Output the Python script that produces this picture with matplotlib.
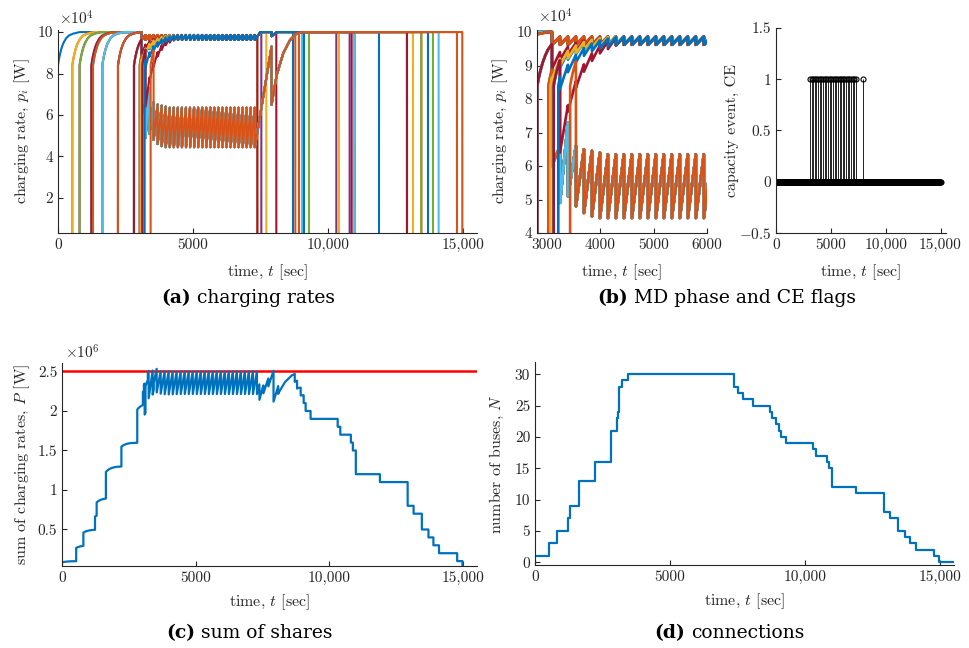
import numpy as np
import matplotlib
matplotlib.use('Agg')
import matplotlib.pyplot as plt

plt.rcParams['font.family'] = 'cmr10'
plt.rcParams['mathtext.fontset'] = 'cm'
plt.rcParams['axes.formatter.use_mathtext'] = True

# plug-in / plug-out times of the 30 buses [sec]
t_on = [0, 531, 531, 800, 800, 1235, 1235, 1296, 1296, 1642, 1642, 1642, 1642,
        2222, 2222, 2222, 2815, 2815, 2815, 2815, 2815, 3025, 3025, 3062,
        3123, 3123, 3123, 3123, 3210, 3432]
t_off = [8704, 8790, 7383, 7531, 9296, 9037, 7383, 10988, 8926, 7716, 10309,
         10988, 10988, 8086, 11889, 13457, 13148, 10802, 13457, 12926, 10877,
         9111, 14778, 10407, 12926, 13889, 14099, 12926, 13704, 14975]

# buses pushed into the low band during the MD phase
low_band = [7, 10, 12, 14, 16, 17, 18, 19, 22, 24, 25, 26, 29]
# late buses that climb back to the high band (rate right after first decrease)
late_start = {20: 8.9, 21: 8.5, 23: 8.6, 27: 6.4, 28: 8.3}

# rate after plug-in [x1e4 W] vs seconds since plug-in
rise_off = [0, 25, 50, 100, 150, 200, 300, 400, 550, 800]
rise_val = [8.4, 8.61, 8.79, 9.08, 9.30, 9.47, 9.70, 9.83, 9.92, 10.0]

# catch-up of late buses: share of the gap to full rate still open
catch_off = [0, 150, 300, 450, 600, 750, 900, 1100]
catch_frac = [1.0, 0.62, 0.40, 0.25, 0.15, 0.08, 0.04, 0.0]

# capacity events (CE = 1)
ce_times = [3090, 3240, 3390, 3540, 3690, 3840, 3990, 4140, 4290, 4440, 4590,
            4740, 4890, 5040, 5190, 5340, 5490, 5640, 5790, 5940, 6090, 6240,
            6390, 6540, 6690, 6840, 6990, 7140, 7290, 7910]

# high band: rate before / after each decrease
hi_peak, hi_trough = 9.86, 9.62
# low band: rate after the decrease at each event, and just before it
low_trough = [6.0, 4.9, 5.1, 4.8, 4.6, 4.5, 4.45, 4.45, 4.45, 4.45, 4.45, 4.45,
              4.45, 4.45, 4.45, 4.45, 4.45, 4.45, 4.45, 4.45, 4.45, 4.45, 4.45,
              4.45, 4.45, 4.45, 4.45, 4.45, 4.45]
low_peak = [None, 6.6, 7.3, 6.6, 6.5, 6.45, 6.4, 6.35, 6.35, 6.35, 6.35, 6.35,
            6.35, 6.35, 6.35, 6.35, 6.35, 6.35, 6.35, 6.35, 6.35, 6.35, 6.35,
            6.35, 6.35, 6.35, 6.35, 6.35, 6.35]

# recovery of the low band after the last CE
rec_off = [0, 190, 430, 680, 930, 1110]
rec_val = [6.5, 7.93, 8.97, 9.61, 9.94, 10.0]

p_cap = 2.5  # [x1e6 W]
t_end = 15520
colors = ['#0072BD', '#D95319', '#EDB120', '#7E2F8E', '#77AC30', '#4DBEEE', '#A2142F']

teeth = ce_times[:-1]
ce_late = ce_times[-1]


def bus_curve(i):
    ton, toff = t_on[i], t_off[i]
    pts = [(0, 0.0), (ton - 1, 0.0)] if ton > 0 else []
    k0 = next(k for k, tk in enumerate(teeth) if tk > ton)
    pts += [(ton + o, v) for o, v in zip(rise_off, rise_val) if ton + o < teeth[k0]]
    before = np.interp(teeth[k0] - ton, rise_off, rise_val)
    if i in low_band:
        for k in range(k0, len(teeth)):
            if k > k0:
                before = low_peak[k]
            pts += [(teeth[k], before), (teeth[k] + 1, low_trough[k])]
        pts += [(ce_late, 9.3)]
        pts += [(ce_late + 1 + o, v) for o, v in zip(rec_off, rec_val)]
    else:
        e0 = late_start[i] / hi_trough * 10 if i in late_start else 10.0
        for k in range(k0, len(teeth)):
            env = 10 - (10 - e0) * np.interp(teeth[k] - teeth[k0], catch_off, catch_frac)
            if k > k0:
                before = env * hi_peak / 10
            pts += [(teeth[k], before), (teeth[k] + 1, env * hi_trough / 10)]
        pts += [(7500, 10.0), (ce_late, 10.0), (ce_late + 1, 9.8), (8100, 10.0)]
    pts += [(t_end, 10.0)]
    t = np.array([p[0] for p in pts], float)
    v = np.array([p[1] for p in pts], float)
    keep = t < toff
    v_off = np.interp(toff, t, v)
    return np.r_[t[keep], toff, toff + 1, t_end], np.r_[v[keep], v_off, 0, 0]


curves = [bus_curve(i) for i in range(len(t_on))]

# total drawn power at every breakpoint of any bus
t_all = np.unique(np.concatenate([c[0] for c in curves]))
p_total = sum(np.interp(t_all, t, v) for t, v in curves) / 100

# connected buses
t_ev = np.unique(np.r_[t_on, t_off])
n_bus = [np.sum(np.array(t_on) <= t) - np.sum(np.array(t_off) <= t) for t in t_ev]

fig = plt.figure(figsize=(9.7, 6.48), dpi=100)
W, H = 970, 648


def add_ax(x0, y0, x1, y1):
    ax = fig.add_axes([x0 / W, 1 - y1 / H, (x1 - x0) / W, (y1 - y0) / H])
    for s in ['top', 'right']:
        ax.spines[s].set_visible(False)
    for s in ['left', 'bottom']:
        ax.spines[s].set_color('#262626')
        ax.spines[s].set_linewidth(0.8)
    ax.tick_params(direction='in', length=3.5, width=0.8, colors='#262626',
                   labelsize=11, labelcolor='#262626')
    return ax


xt = [0, 5000, 10000, 15000]
xtl = ['0', '5000', '10,000', '15,000']
lab_kw = dict(fontsize=11.5, color='#262626')

# (a) charging rates
ax = add_ax(58, 30, 477, 233)
for i, (t, v) in enumerate(curves):
    ax.plot(t, v, color=colors[i % 7], lw=1.5)
ax.set_xlim(0, t_end)
ax.set_ylim(0.31, 10.1)
ax.set_xticks(xt, xtl)
ax.set_yticks([2, 4, 6, 8, 10], ['2', '4', '6', '8', '10'])
ax.set_xlabel('time, $t$ [sec]', **lab_kw)
ax.set_ylabel('charging rate, $p_i$ [W]', **lab_kw)
ax.xaxis.set_label_coords(0.5, -0.143)
ax.yaxis.set_label_coords(-0.062, 0.5)
ax.text(0.002, 1.025, r'$\times10^4$', transform=ax.transAxes, fontsize=11,
        va='baseline', color='#262626')

# (b) zoom on the MD phase
ax = add_ax(537, 30, 707, 233)
for i, (t, v) in enumerate(curves):
    ax.plot(t, v, color=colors[i % 7], lw=1.9)
ax.set_xlim(2810, 6000)
ax.set_ylim(4, 10.06)
ax.set_xticks([3000, 4000, 5000, 6000], ['3000', '4000', '5000', '6000'])
ax.set_yticks(range(4, 11), [str(k) for k in range(4, 11)])
ax.set_xlabel('time, $t$ [sec]', **lab_kw)
ax.set_ylabel('charging rate, $p_i$ [W]', **lab_kw)
ax.xaxis.set_label_coords(0.5, -0.143)
ax.yaxis.set_label_coords(-0.159, 0.5)
ax.text(0.006, 1.036, r'$\times10^4$', transform=ax.transAxes, fontsize=11,
        va='baseline', color='#262626')

# (b) CE flags
ax = add_ax(776, 28, 946, 233)
t_s = np.arange(0, 15001, 25)
ax.plot(t_s, np.zeros(len(t_s)), 'o', mfc='none', mec='k', ms=3.6, mew=0.8)
ax.vlines(ce_times, 0, 1, color='k', lw=0.6)
ax.plot(ce_times, np.ones(len(ce_times)), 'o', mfc='none', mec='k', ms=3.6, mew=0.8)
ax.set_xlim(0, 15500)
ax.set_ylim(-0.5, 1.5)
ax.set_xticks(xt, xtl)
ax.set_yticks([-0.5, 0, 0.5, 1, 1.5], ['$-$0.5', '0', '0.5', '1', '1.5'])
ax.set_xlabel('time, $t$ [sec]', **lab_kw)
ax.set_ylabel('capacity event, CE', **lab_kw)
ax.xaxis.set_label_coords(0.5, -0.141)
ax.yaxis.set_label_coords(-0.218, 0.5)

# (c) sum of shares
ax = add_ax(62, 363, 477, 566)
ax.axhline(p_cap, color='r', lw=1.8)
ax.plot(t_all, p_total, color=colors[0], lw=1.6)
ax.set_xlim(0, t_end)
ax.set_ylim(0.038, 2.607)
ax.set_xticks(xt, xtl)
ax.set_yticks([0.5, 1, 1.5, 2, 2.5], ['0.5', '1', '1.5', '2', '2.5'])
ax.set_xlabel('time, $t$ [sec]', **lab_kw)
ax.set_ylabel('sum of charging rates, $P$ [W]', **lab_kw)
ax.xaxis.set_label_coords(0.5, -0.131)
ax.yaxis.set_label_coords(-0.072, 0.5)
ax.text(0.007, 1.023, r'$\times10^6$', transform=ax.transAxes, fontsize=11,
        va='baseline', color='#262626')

# (d) connections
ax = add_ax(535, 362, 954, 565)
ax.step(np.r_[t_ev, t_end], np.r_[n_bus, n_bus[-1]], where='post',
        color=colors[0], lw=1.6)
ax.set_xlim(0, t_end)
ax.set_ylim(-0.45, 31.95)
ax.set_xticks(xt, xtl)
ax.set_yticks(range(0, 31, 5), [str(k) for k in range(0, 31, 5)])
ax.set_xlabel('time, $t$ [sec]', **lab_kw)
ax.set_ylabel('number of buses, $N$', **lab_kw)
ax.xaxis.set_label_coords(0.5, -0.131)
ax.yaxis.set_label_coords(-0.069, 0.5)

# sub-figure captions
captions = [('(a)', 'charging rates', 191, 298),
            ('(b)', 'MD phase and CE flags', 628, 298),
            ('(c)', 'sum of shares', 195, 633),
            ('(d)', 'connections', 685, 633)]
for tag, txt, xs, yc in captions:
    fig.text(xs / W, 1 - yc / H, tag, ha='right', va='center', fontsize=13.5,
             fontweight='bold', family='DejaVu Serif')
    fig.text((xs + 6) / W, 1 - yc / H, txt, ha='left', va='center', fontsize=13.5,
             family='DejaVu Serif')

fig.savefig('out.png', dpi=100)
